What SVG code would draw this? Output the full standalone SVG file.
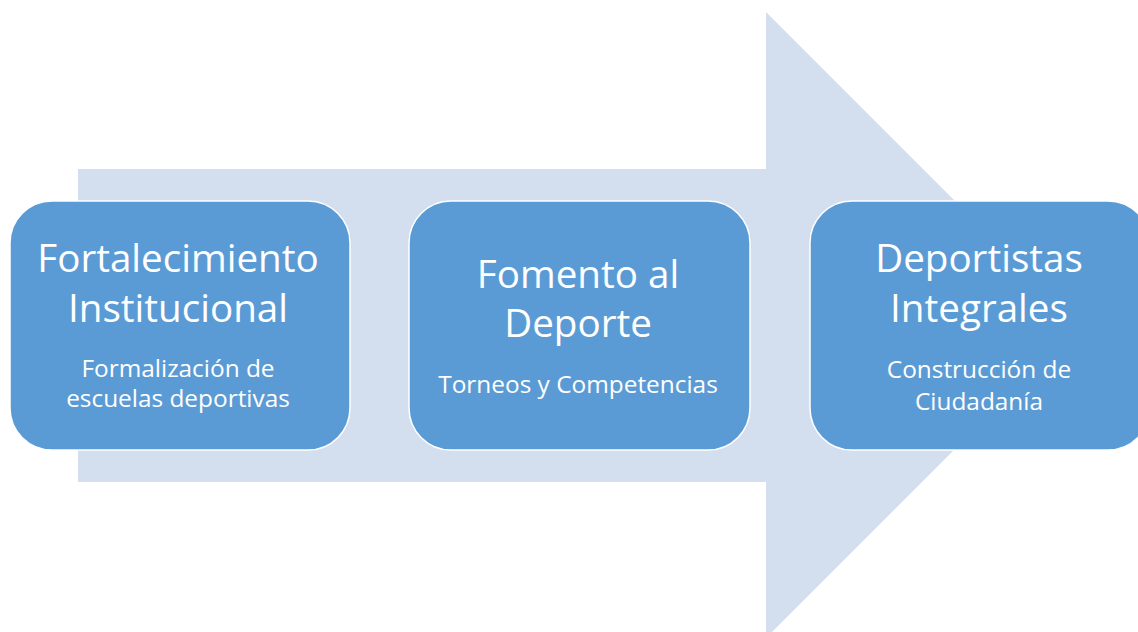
<svg xmlns="http://www.w3.org/2000/svg" width="1138" height="632" viewBox="0 0 1138 632">
<style>
.box{fill:#5B9BD5;stroke:#FFFFFF;stroke-width:1.5}
.t{font-family:"Open Sans","Noto Sans",sans-serif;fill:#FFFFFF;text-anchor:middle}
.h{font-size:38.6px}
.s{font-size:24.4px}
</style>
<rect width="1138" height="632" fill="#FFFFFF"/>
<g id="arrow">
<polygon points="78,169 766,169 766,12 1079,325 766,638 766,482 78,482" fill="#D3DEEF"/>
</g>
<g id="connectors"></g>
<g id="node1">
<rect class="box" x="10" y="201" width="340" height="249" rx="42"/>
<text class="t h" x="178" y="272">Fortalecimiento</text>
<text class="t h" x="178" y="322">Institucional</text>
<text class="t s" x="178" y="377">Formalización de</text>
<text class="t s" x="178" y="407">escuelas deportivas</text>
</g>
<g id="node2">
<rect class="box" x="409" y="201" width="341" height="249" rx="42"/>
<text class="t h" x="578" y="288">Fomento al</text>
<text class="t h" x="578" y="337">Deporte</text>
<text class="t s" x="578" y="393">Torneos y Competencias</text>
</g>
<g id="node3">
<rect class="box" x="810" y="201" width="340" height="249" rx="42"/>
<text class="t h" x="979" y="272">Deportistas</text>
<text class="t h" x="979" y="322">Integrales</text>
<text class="t s" x="979" y="378">Construcción de</text>
<text class="t s" x="979" y="410">Ciudadanía</text>
</g>
</svg>
